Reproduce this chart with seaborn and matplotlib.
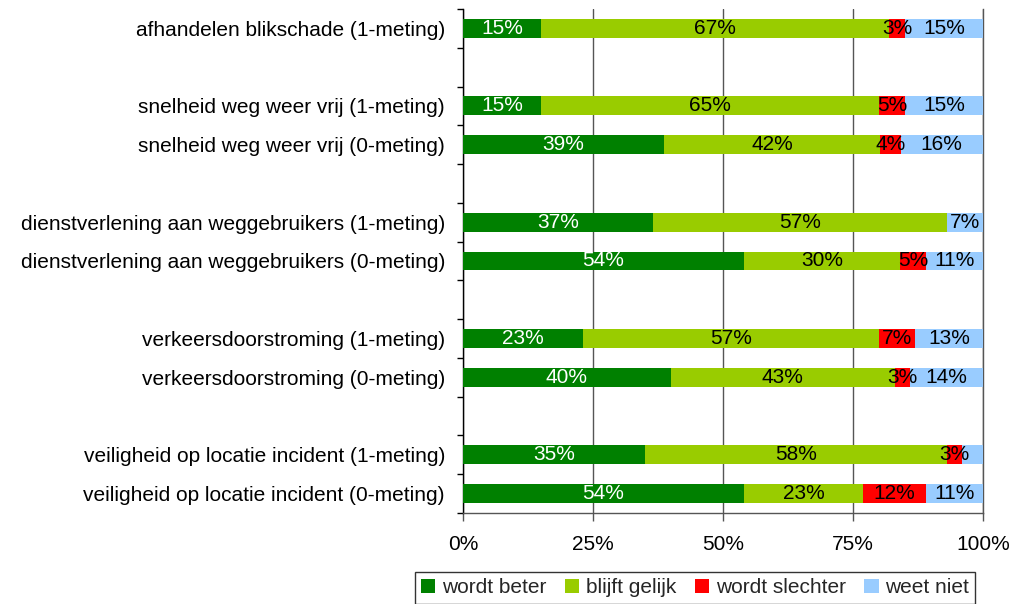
import numpy as np
import pandas as pd
import matplotlib
matplotlib.use("Agg")
import matplotlib.pyplot as plt
from matplotlib.patches import Patch
import seaborn as sns

categories = [
    "afhandelen blikschade (1-meting)",
    "",
    "snelheid weg weer vrij (1-meting)",
    "snelheid weg weer vrij (0-meting)",
    " ",
    "dienstverlening aan weggebruikers (1-meting)",
    "dienstverlening aan weggebruikers (0-meting)",
    "  ",
    "verkeersdoorstroming (1-meting)",
    "verkeersdoorstroming (0-meting)",
    "   ",
    "veiligheid op locatie incident (1-meting)",
    "veiligheid op locatie incident (0-meting)",
]
series = ["wordt beter", "blijft gelijk", "wordt slechter", "weet niet"]
wordt_beter    = [15, None, 15, 39, None, 37, 54, None, 23, 40, None, 35, 54]
blijft_gelijk  = [67, None, 65, 42, None, 57, 30, None, 57, 43, None, 58, 23]
wordt_slechter = [3,  None, 5,  4,  None, 0,  5,  None, 7,  3,  None, 3,  12]
weet_niet      = [15, None, 15, 16, None, 7,  11, None, 13, 14, None, 4,  11]
hidden_labels = {("veiligheid op locatie incident (1-meting)", "weet niet")}
colors = ["#008000", "#99CC00", "#FF0000", "#99CCFF"]
label_colors = ["white", "black", "black", "black"]
xticks = [0, 25, 50, 75, 100]

FS = 15

sns.set_theme(style="white")
plt.rcParams["font.family"] = ["Liberation Sans", "DejaVu Sans"]

df = pd.DataFrame({"category": categories, "wordt beter": wordt_beter,
                   "blijft gelijk": blijft_gelijk, "wordt slechter": wordt_slechter,
                   "weet niet": weet_niet})
df = df[df["wordt beter"].notna()].copy()
tot = df[series].sum(axis=1)
for s in series:
    df[s + "_pct"] = df[s] / tot * 100
cum = df[[s + "_pct" for s in series]].cumsum(axis=1)
for i, s in enumerate(series):
    df[s + "_cum"] = cum.iloc[:, i]

fig = plt.figure(figsize=(10.24, 6.04), dpi=100)
ax = fig.add_axes([463/1024, 1 - 513/604, 520/1024, 504/604])

for i in reversed(range(len(series))):
    s = series[i]
    sns.barplot(data=df, y="category", x=s + "_cum", order=categories, orient="h",
                color=colors[i], saturation=1, width=0.49, ax=ax, zorder=3,
                linewidth=0, edgecolor="none")

# labels
pos = {c: k for k, c in enumerate(categories)}
for _, row in df.iterrows():
    y = pos[row["category"]]
    left = 0
    for i, s in enumerate(series):
        w = row[s + "_pct"]
        if row[s] > 0 and (row["category"], s) not in hidden_labels:
            ax.text(left + w / 2, y, f"{int(row[s])}%", ha="center", va="center",
                    color=label_colors[i], fontsize=FS, zorder=5)
        left += w

ax.set_xlim(0, 100)
ax.set_ylim(len(categories) - 0.5, -0.5)
ax.set_xticks(xticks)
ax.set_xticklabels([f"{t}%" for t in xticks], fontsize=FS)
ax.set_yticks(range(len(categories)))
ax.set_yticklabels([c.strip() for c in categories], fontsize=FS, color="black")
ax.tick_params(axis="y", which="major", length=0, pad=13)
ax.set_yticks(np.arange(-0.5, len(categories), 1), minor=True)
ax.tick_params(axis="y", which="minor", length=4, width=1, color="black", left=True)
ax.tick_params(axis="x", length=6, width=1, color="#555555", bottom=True, pad=10,
               labelcolor="black")
ax.set_xlabel("")
ax.set_ylabel("")
ax.xaxis.grid(True, color="#555555", linewidth=1, zorder=0)
ax.set_axisbelow(True)
ax.spines["top"].set_visible(False)
ax.spines["right"].set_color("#555555")
ax.spines["right"].set_linewidth(1)
ax.spines["left"].set_color("black")
ax.spines["left"].set_linewidth(1)
ax.spines["bottom"].set_color("#555555")
ax.spines["bottom"].set_linewidth(1)

handles = [Patch(facecolor=c, edgecolor="none") for c in colors]
leg = fig.legend(handles, series, loc="upper center", bbox_to_anchor=(695/1024, 1 - 572/604),
                 ncol=4, frameon=True, fontsize=FS, handlelength=0.7, handleheight=0.7,
                 handletextpad=0.3, columnspacing=0.9, borderpad=0.3, fancybox=False,
                 borderaxespad=0)
leg.get_frame().set_edgecolor("black")
leg.get_frame().set_linewidth(1)

fig.savefig("out.png", dpi=100)
